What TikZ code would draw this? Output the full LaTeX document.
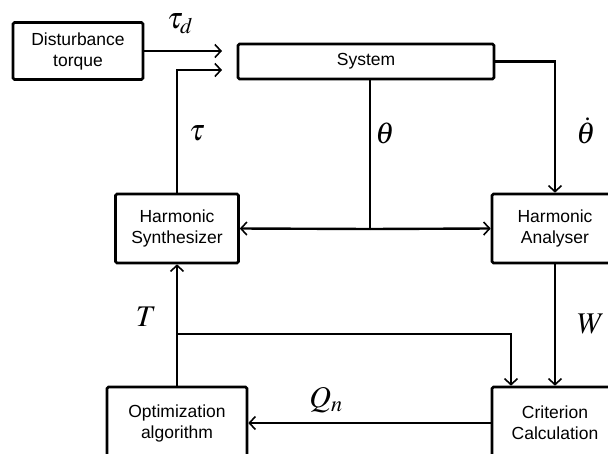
\documentclass[tikz,border=0pt]{standalone}
\usepackage{mathptmx}
\usepackage{fontspec}
\setmainfont{Liberation Sans}
\usepackage{tikz}
\usetikzlibrary{arrows.meta, positioning}

\tikzset{
  bloc/.style={draw, line width=2.6pt, rounded corners=1.5pt, align=center,
    font=\fontsize{17.5}{21}\selectfont, inner sep=0pt},
  lien/.style={line width=2.4pt},
  signal/.style={font=\fontsize{30}{34}\selectfont, inner sep=0pt}
}

\begin{document}
\begin{tikzpicture}[x=1pt, y=-1pt, >={Straight Barb[length=6pt,width=13pt,line width=1.6pt]}]
    \useasboundingbox (0,0) rectangle (608,453);
    \clip (0,0) rectangle (608,453);

    % Les blocs
    \node[bloc, minimum width=130pt, minimum height=57pt] (dist) at (78,51) {Disturbance\\torque};
    \node[bloc, minimum width=256pt, minimum height=35pt] (sys) at (366,61.5) {System};
    \node[bloc, minimum width=123pt, minimum height=69pt] (synth) at (177,228.5) {Harmonic\\Synthesizer};
    \node[bloc, minimum width=126pt, minimum height=69pt] (anal) at (555,228.5) {Harmonic\\Analyser};
    \node[bloc, minimum width=140pt, minimum height=72pt] (opt) at (177,423) {Optimization\\algorithm};
    \node[bloc, minimum width=126pt, minimum height=72pt] (crit) at (555,423) {Criterion\\Calculation};

    % Points de passage
    \coordinate (tdin) at (222,51);
    \coordinate (tin) at (222,70);
    \coordinate (j) at (370,229);
    \coordinate (tb) at (177,334);

    % Entrees du systeme
    \draw[lien, ->] (dist.east) -- (tdin);
    \draw[lien, ->] (synth.north) |- (tin);

    % Sorties du systeme
    \draw[lien, ->] (sys.east) -| (anal.north);
    \draw[lien] (j |- sys.south) -- (j);
    \draw[lien, ->] (j) -- (anal.west);
    \draw[lien, ->] (j) -- (synth.east);

    % Boucle d'optimisation
    \draw[lien, ->] (opt.north) -- (synth.south);
    \draw[lien, ->] (tb) -| ([xshift=-44pt]crit.north);
    \draw[lien, ->] (anal.south) -- (crit.north);
    \draw[lien, ->] (crit.west) -- (opt.east);

    % Les signaux
    \node[signal] (ltaud) at (180,24) {$\tau_d$};
    \node[signal] (ltau) at (197,133) {$\tau$};
    \node[signal] (ltheta) at (385,133) {$\theta$};
    \node[signal] (ldtheta) at (586,131) {$\dot{\theta}$};
    \node[signal] (lT) at (146,317) {$T$};
    \node[signal] (lW) at (591,324) {$W$};
    \node[signal] (lQ) at (326,400) {$Q_n$};
\end{tikzpicture}
\end{document}
